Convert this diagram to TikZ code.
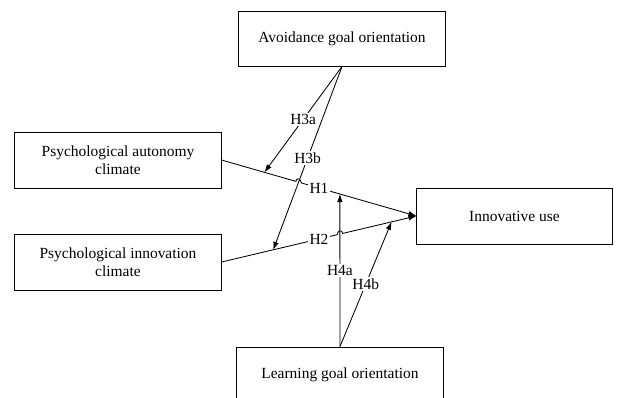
\documentclass[tikz,border=0pt]{standalone}
\usepackage{fontspec}
\setmainfont{Liberation Serif}
\usetikzlibrary{arrows.meta,calc,intersections}
\tikzset{
  var/.style={draw,line width=0.7pt,align=center,minimum width=5.15cm,minimum height=1.4cm,
    font=\fontsize{11}{12.5}\selectfont},
  pth/.style={line width=0.6pt},
  arr/.style={pth,-{Latex[length=2mm,width=1.4mm]}},
  hyp/.style={font=\fontsize{11}{12.5}\selectfont,fill=white,inner sep=1pt},
}

\begin{document}
\begin{tikzpicture}[x=0.025cm,y=-0.025cm]
  \useasboundingbox (0,0) rectangle (620,397);
  \node[var,minimum height=1.375cm] (avoid) at (342,38.5) {Avoidance goal orientation};
  \node[var] (auto) at (118,160) {Psychological autonomy\\climate};
  \node[var] (innov) at (118,262) {Psychological innovation\\climate};
  \node[var,minimum width=4.875cm] (use) at (514.5,216) {Innovative use};
  \node[var] (learn) at (340,375) {Learning goal orientation};
  % moderators hit the main paths here
  \coordinate (t3a) at ($(auto.east)!0.22!(use.west)$);
  \coordinate (t3b) at ($(innov.east)!0.265!(use.west)$);
  \coordinate (t4a) at ($(auto.east)!0.607!(use.west)$);
  \coordinate (t4b) at ($(innov.east)!0.872!(use.west)$);
  \draw[arr] (avoid.south) -- node[hyp]{H3a} (t3a);
  \draw[arr,name path=h3b] (avoid.south) -- node[hyp]{H3b} (t3b);
  \draw[arr,name path=h4a] (learn.north) -- node[hyp]{H4a} (t4a);
  \draw[arr] (learn.north) -- node[hyp]{H4b} (t4b);
  % main paths, with a hop where they cross
  \path[name path=h1] (auto.east) -- (use.west);
  \path[name path=h2] (innov.east) -- (use.west);
  \path[name intersections={of=h1 and h3b,by=x1}];
  \path[name intersections={of=h2 and h4a,by=x2}];
  \draw[arr] (auto.east) -- ($(x1)!2pt!(auto.east)$)
    .. controls +(0,3pt) and +(0,3pt) .. ($(x1)!2pt!(use.west)$) -- (use.west);
  \draw[arr] (innov.east) -- ($(x2)!2pt!(innov.east)$)
    .. controls +(0,3pt) and +(0,3pt) .. ($(x2)!2pt!(use.west)$) -- (use.west);
  \node[hyp] (h1) at ($(auto.east)!0.5!(use.west)$) {H1};
  \node[hyp] (h2) at ($(innov.east)!0.5!(use.west)$) {H2};
\end{tikzpicture}
\end{document}
